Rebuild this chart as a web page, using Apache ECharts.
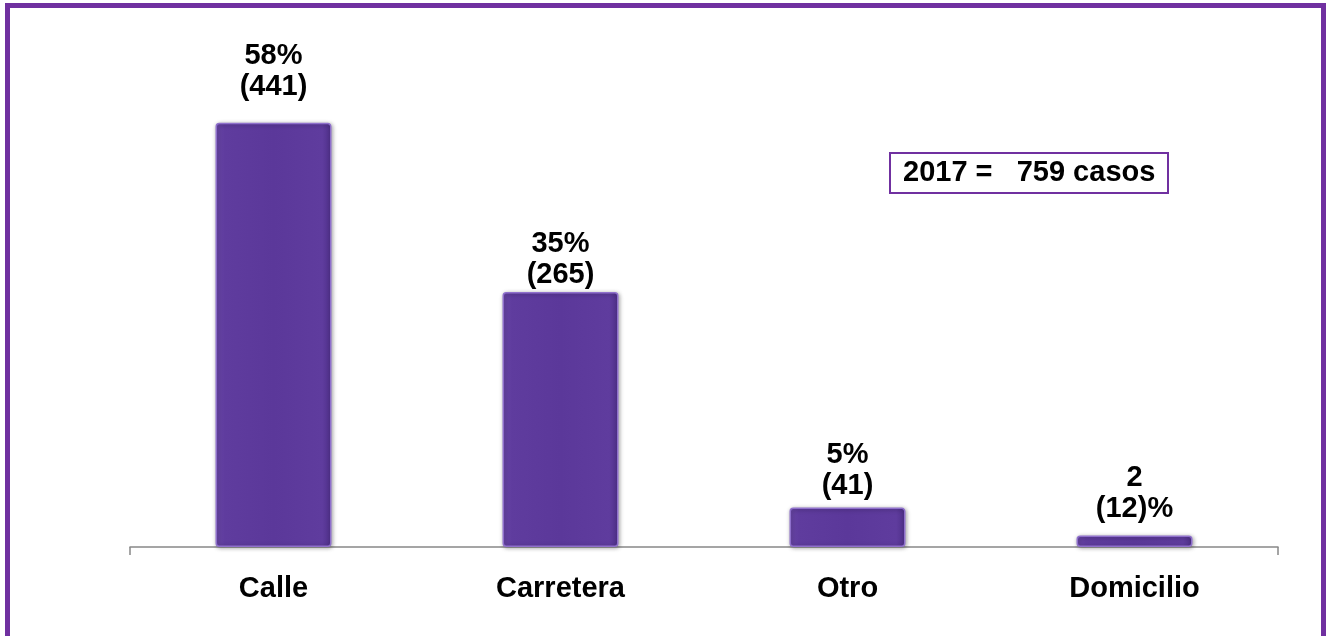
<!DOCTYPE html>
<html>
<head>
<meta charset="utf-8">
<script src="https://cdn.jsdelivr.net/npm/echarts@6/dist/echarts.min.js"></script>
<style>
  html, body { margin: 0; padding: 0; background: #fff; }
  #chart { position: absolute; left: 0; top: 0; width: 1326px; height: 636px; }
  .frame {
    position: absolute;
    left: 5px;
    top: 3px;
    width: 1311px;
    height: 700px;
    border: 5px solid #7030A0;
    pointer-events: none;
  }
</style>
</head>
<body>
<div id="chart"></div>
<div class="frame"></div>
<script>
// valores
var categories = ['Calle', 'Carretera', 'Otro', 'Domicilio']
var casos = [441, 265, 41, 12]
var pctLabels = ['58%', '35%', '5%', '2']
var countLabels = ['(441)', '(265)', '(41)', '(12)%']
var labelGap = [20, 2, 6, 11]
var totalText = '2017 =   759 casos'

var font = '"Liberation Sans", Arial, sans-serif'

var barColor = new echarts.graphic.LinearGradient(0, 0, 1, 0, [
  { offset: 0, color: '#6a47a8' },
  { offset: 0.08, color: '#5f3c9e' },
  { offset: 0.5, color: '#5b389a' },
  { offset: 0.92, color: '#5f3c9e' },
  { offset: 1, color: '#4e2f88' }
])

var barData = casos.map(function (v, i) {
  return {
    value: v,
    label: { distance: labelGap[i] }
  }
})

var myChart = echarts.init(document.getElementById('chart'))
var option = {
  animation: false,
  backgroundColor: '#fff',
  title: {
    text: totalText,
    left: 890,
    top: 153,
    padding: [4, 13, 4, 13],
    borderColor: '#7030A0',
    borderWidth: 2,
    textStyle: {
      fontFamily: font,
      fontSize: 29,
      fontWeight: 'bold',
      color: '#000',
      lineHeight: 32
    }
  },
  grid: {
    left: 130,
    right: 48,
    top: 66,
    bottom: 89
  },
  xAxis: {
    type: 'category',
    data: categories,
    axisLine: { lineStyle: { color: '#888', width: 1.5 } },
    axisTick: {
      show: true,
      length: 8,
      interval: function (i) { return i === 0 },
      lineStyle: { color: '#888', width: 1.5 }
    },
    axisLabel: {
      interval: 0,
      margin: 27,
      fontFamily: font,
      fontSize: 29,
      fontWeight: 'bold',
      color: '#000'
    }
  },
  yAxis: {
    type: 'value',
    min: 0,
    max: 500,
    show: false,
    splitLine: { show: false }
  },
  series: [
    {
      type: 'bar',
      data: barData,
      barWidth: 116,
      itemStyle: {
        color: barColor,
        borderColor: '#8f70cc',
        borderWidth: 1.5,
        borderRadius: 3,
        shadowColor: 'rgba(0, 0, 0, 0.35)',
        shadowBlur: 4,
        shadowOffsetX: 1,
        shadowOffsetY: 1
      },
      label: {
        show: true,
        position: 'top',
        fontFamily: font,
        fontSize: 29,
        fontWeight: 'bold',
        color: '#000',
        lineHeight: 31,
        formatter: function (p) {
          return pctLabels[p.dataIndex] + '\n' + countLabels[p.dataIndex]
        }
      }
    }
  ]
}
myChart.setOption(option)
</script>
</body>
</html>
